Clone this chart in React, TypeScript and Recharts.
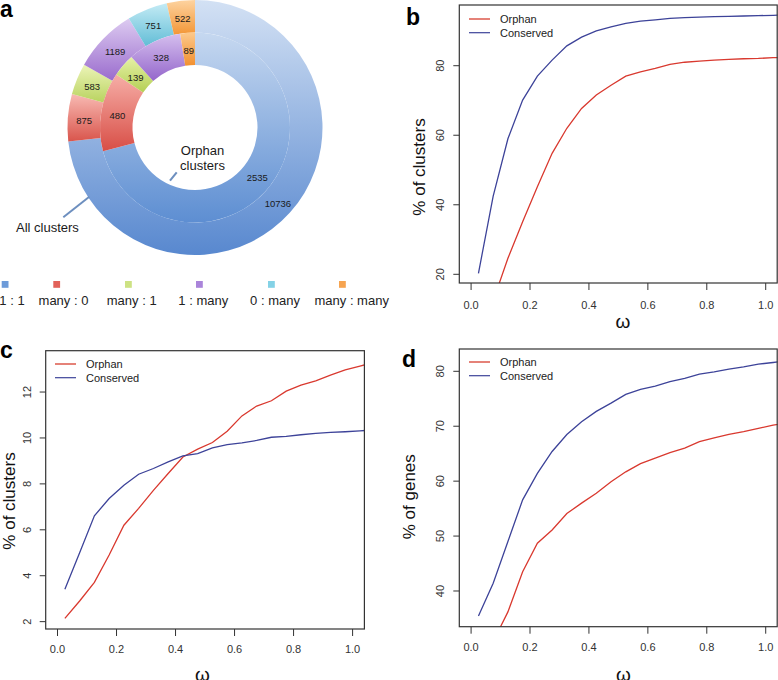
import React from 'react';
import { PieChart, Pie, Cell, LineChart, Line, XAxis, YAxis, Legend, Label } from 'recharts';

const FONT = '"Liberation Sans", Arial, Helvetica, sans-serif';

// ---------- panel a data ----------
const categories = ['1 : 1', 'many : 0', 'many : 1', '1 : many', '0 : many', 'many : many'];
const allClusters = [10736, 875, 583, 1189, 751, 522];
const orphanClusters = [2535, 480, 139, 328, 0, 89];

// ---------- panels b, c, d data ----------
const omega = [0.025, 0.075, 0.125, 0.175, 0.225, 0.275, 0.325, 0.375, 0.425, 0.475, 0.525,
  0.575, 0.625, 0.675, 0.725, 0.775, 0.825, 0.875, 0.925, 0.975, 1.025, 1.075];
const xTicks = [0, 0.2, 0.4, 0.6, 0.8, 1.0];
const seriesNames = ['Orphan', 'Conserved'];

const bOrphan = [4.5, 12.4, 24.6, 35.1, 45.2, 54.8, 62.0, 67.7, 71.6, 74.4, 77.0,
  78.2, 79.2, 80.4, 81.0, 81.3, 81.6, 81.8, 82.0, 82.1, 82.3, 82.4];
const bConserved = [20.3, 42.5, 59.0, 70.1, 77.0, 81.6, 85.7, 88.2, 90.0, 91.2, 92.2,
  92.8, 93.2, 93.6, 93.8, 94.0, 94.1, 94.2, 94.3, 94.4, 94.5, 94.6];
const bTicks = [20, 40, 60, 80];

const cOrphan = [2.14, 2.9, 3.71, 4.9, 6.2, 6.93, 7.72, 8.45, 9.17, 9.51, 9.8,
  10.29, 10.96, 11.39, 11.62, 12.04, 12.3, 12.49, 12.74, 12.96, 13.13, 13.3];
const cConserved = [3.41, 5.0, 6.61, 7.36, 7.94, 8.42, 8.67, 8.96, 9.22, 9.32, 9.57,
  9.71, 9.79, 9.89, 10.03, 10.07, 10.14, 10.2, 10.24, 10.27, 10.31, 10.35];
const cTicks = [2, 4, 6, 8, 10, 12];

const dOrphan = [26.0, 30.8, 36.2, 43.5, 48.7, 51.1, 54.1, 56.0, 57.8, 59.9, 61.7,
  63.2, 64.2, 65.2, 66.0, 67.2, 67.9, 68.5, 69.0, 69.6, 70.2, 70.6];
const dConserved = [35.45, 41.4, 49.0, 56.6, 61.4, 65.4, 68.5, 70.8, 72.7, 74.2, 75.8,
  76.7, 77.3, 78.1, 78.7, 79.5, 79.9, 80.4, 80.8, 81.3, 81.6, 81.9];
const dTicks = [40, 50, 60, 70, 80];

// ---------- styles ----------
const W = 778;
const H = 680;
const RED = '#d9392f';
const RED_LEGEND = '#e37469';
const BLUE = '#3d4399';

const outerGrad = [
  ['#d3e1f4', '#5888cf'],
  ['#f8bab3', '#d9554c'],
  ['#ecf4b8', '#b9d35f'],
  ['#ddcbf1', '#9a6ccd'],
  ['#c4ebf5', '#62bdd6'],
  ['#fdd3a0', '#f39636'],
];
const innerGrad = [
  ['#c6d8f0', '#5d8ed2'],
  ['#f6aea7', '#d84e46'],
  ['#e6f1a6', '#b4cf55'],
  ['#d5bfee', '#9466cb'],
  ['#bde6f3', '#5cb8d3'],
  ['#fcc98c', '#f29030'],
];
const swatch = ['#6d9bd9', '#e2625a', '#cde283', '#aa84da', '#84d2e6', '#f6a450'];

const RAD = Math.PI / 180;

const sliceLabel = (props: any) => {
  const { cx, cy, midAngle, innerRadius, outerRadius, value } = props;
  if (!value) return null;
  const r = (innerRadius + outerRadius) / 2;
  const x = cx + r * Math.cos(-midAngle * RAD);
  const y = cy + r * Math.sin(-midAngle * RAD);
  return (
    <text x={x} y={y + 5} textAnchor="middle" fontSize={9.5} fontFamily={FONT} fill="#1a1a1a">
      {value}
    </text>
  );
};

const DonutLegend = () => {
  const sq = [1.7, 53.3, 125, 196, 268, 339];
  const tx = [12, 63.5, 131.7, 203.3, 275, 351.7];
  return (
    <svg width={390} height={40} style={{ display: 'block', overflow: 'visible' }}>
      {categories.map((c, i) => (
        <g key={c}>
          <rect x={sq[i]} y={6} width={6.8} height={6.8} fill={swatch[i]} />
          <text x={tx[i]} y={30} textAnchor="middle" fontSize={13} fontFamily={FONT} fill="#222">{c}</text>
        </g>
      ))}
    </svg>
  );
};

const LineLegend = () => (
  <svg width={150} height={32} style={{ display: 'block', overflow: 'visible' }}>
    <line x1={4} x2={25} y1={9} y2={9} stroke={RED_LEGEND} strokeWidth={1.8} />
    <text x={35} y={13} fontSize={11} fontFamily={FONT} fill="#222">{seriesNames[0]}</text>
    <line x1={4} x2={25} y1={22.7} y2={22.7} stroke={BLUE} strokeWidth={1.2} />
    <text x={35} y={26.7} fontSize={11} fontFamily={FONT} fill="#222">{seriesNames[1]}</text>
  </svg>
);

function Donut() {
  const outer = categories.map((name, i) => ({ name, value: allClusters[i] }));
  const inner = categories.map((name, i) => ({ name, value: orphanClusters[i] }));
  return (
    <div style={{ position: 'absolute', left: 0, top: 0 }}>
      <PieChart width={390} height={330} margin={{ top: 0, right: 0, bottom: 0, left: 0 }}>
        <defs>
          {outerGrad.map((g, i) => (
            <linearGradient key={'o' + i} id={'gout' + i} x1="0" y1="0" x2="0" y2="1">
              <stop offset="0%" stopColor={g[0]} />
              <stop offset="100%" stopColor={g[1]} />
            </linearGradient>
          ))}
          {innerGrad.map((g, i) => (
            <linearGradient key={'i' + i} id={'gin' + i} x1="0" y1="0" x2="0" y2="1">
              <stop offset="0%" stopColor={g[0]} />
              <stop offset="100%" stopColor={g[1]} />
            </linearGradient>
          ))}
        </defs>
        <Pie data={outer} dataKey="value" nameKey="name" cx={195} cy={127.5} innerRadius={95} outerRadius={127.5}
          startAngle={90} endAngle={-270} stroke="none" isAnimationActive={false} label={sliceLabel} labelLine={false}>
          {outer.map((d, i) => <Cell key={d.name} fill={`url(#gout${i})`} />)}
        </Pie>
        <Pie data={inner} dataKey="value" nameKey="name" cx={195} cy={127.5} innerRadius={62.5} outerRadius={95}
          startAngle={90} endAngle={-270} stroke="none" isAnimationActive={false} label={sliceLabel} labelLine={false}>
          {inner.map((d, i) => <Cell key={d.name} fill={`url(#gin${i})`} />)}
        </Pie>
        <Legend layout="vertical" align="center" verticalAlign="middle"
          wrapperStyle={{ left: 0, top: 275, width: 390, height: 40 }} content={() => <DonutLegend />} />
      </PieChart>
    </div>
  );
}

type PanelCfg = {
  orphan: number[];
  conserved: number[];
  yDomain: [number, number];
  yTicks: number[];
  box: { l: number; r: number; t: number; b: number };
  yTitle: string;
  yTitleX: number;
  yTitleY: number;
  xTitleX: number;
  xTitleY: number;
  xLabelY: number;
  legend: { left: number; top: number };
};

function CurvePanel(p: PanelCfg) {
  const data = omega.map((x, i) => ({ x, orphan: p.orphan[i], conserved: p.conserved[i] }));
  const YW = 30;
  const XH = 30;
  const margin = { top: p.box.t, right: W - p.box.r, bottom: H - p.box.b - XH, left: p.box.l - YW };
  const xTick = (t: any) => (
    <text x={t.x} y={p.xLabelY} textAnchor="middle" fontSize={11} fontFamily={FONT} fill="#333">
      {Number(t.payload.value).toFixed(1)}
    </text>
  );
  const yTick = (t: any) => {
    const bx = p.box.l - 15;
    return (
      <text x={bx} y={t.y} transform={`rotate(-90, ${bx}, ${t.y})`} textAnchor="middle" fontSize={11}
        fontFamily={FONT} fill="#333">
        {t.payload.value}
      </text>
    );
  };
  return (
    <div style={{ position: 'absolute', left: 0, top: 0 }}>
      <LineChart width={W} height={H} data={data} margin={margin}>
        <XAxis dataKey="x" type="number" domain={[-0.04, 1.04]} ticks={xTicks} interval={0} allowDataOverflow
          height={XH} axisLine={false} tickSize={7} tickMargin={0} tickLine={{ stroke: '#333', strokeWidth: 1 }}
          tick={xTick}>
          <Label content={() => (
            <text x={p.xTitleX} y={p.xTitleY} textAnchor="middle" fontSize={19} fontFamily={FONT} fill="#111">ω</text>
          )} />
        </XAxis>
        <YAxis type="number" domain={p.yDomain} ticks={p.yTicks} interval={0} allowDataOverflow width={YW}
          axisLine={false} tickSize={6} tickMargin={0} tickLine={{ stroke: '#333', strokeWidth: 1 }} tick={yTick}>
          <Label content={() => (
            <text x={p.yTitleX} y={p.yTitleY} transform={`rotate(-90, ${p.yTitleX}, ${p.yTitleY})`}
              textAnchor="middle" fontSize={17} fontFamily={FONT} fill="#111">{p.yTitle}</text>
          )} />
        </YAxis>
        <Line dataKey="orphan" name={seriesNames[0]} type="linear" stroke={RED} strokeWidth={1.3} dot={false}
          activeDot={false} isAnimationActive={false} />
        <Line dataKey="conserved" name={seriesNames[1]} type="linear" stroke={BLUE} strokeWidth={1.3} dot={false}
          activeDot={false} isAnimationActive={false} />
        <Legend layout="vertical" align="center" verticalAlign="middle"
          wrapperStyle={{ left: p.legend.left, top: p.legend.top, width: 150, height: 32 }}
          content={() => <LineLegend />} />
      </LineChart>
    </div>
  );
}

const frames = [
  { l: 459.3, r: 777.2, t: 5, b: 283 },
  { l: 45.7, r: 364.4, t: 350.7, b: 629 },
  { l: 459.3, r: 777.2, t: 349, b: 626.7 },
];

export default function App() {
  return (
    <div style={{ position: 'absolute', left: 0, top: 0, width: W, height: H, background: '#fff', overflow: 'hidden' }}>
      <Donut />
      <CurvePanel orphan={bOrphan} conserved={bConserved} yDomain={[17.5, 97.46]} yTicks={bTicks}
        box={{ l: 459.3, r: 777.5, t: 5, b: 283 }} yTitle="% of clusters" yTitleX={424.5} yTitleY={167}
        xTitleX={623} xTitleY={328.3} xLabelY={309} legend={{ left: 465, top: 10 }} />
      <CurvePanel orphan={cOrphan} conserved={cConserved} yDomain={[1.68, 13.8]} yTicks={cTicks}
        box={{ l: 45.7, r: 364.4, t: 350.7, b: 629 }} yTitle="% of clusters" yTitleX={15} yTitleY={501}
        xTitleX={202.3} xTitleY={681} xLabelY={653.3} legend={{ left: 51, top: 355 }} />
      <CurvePanel orphan={dOrphan} conserved={dConserved} yDomain={[33.5, 84.06]} yTicks={dTicks}
        box={{ l: 459.3, r: 777.5, t: 349, b: 626.7 }} yTitle="% of genes" yTitleX={415.5} yTitleY={496.7}
        xTitleX={623.3} xTitleY={681} xLabelY={650.7} legend={{ left: 465, top: 353 }} />
      <svg width={W} height={H} style={{ position: 'absolute', left: 0, top: 0, pointerEvents: 'none' }}>
        {frames.map((f, i) => (
          <rect key={i} x={f.l} y={f.t} width={f.r - f.l} height={f.b - f.t} fill="none" stroke="#333" strokeWidth={1.2} />
        ))}
        <g fontFamily={FONT} fontWeight="bold" fontSize={23} fill="#000">
          <text x={0} y={17}>a</text>
          <text x={406} y={25}>b</text>
          <text x={0} y={358}>c</text>
          <text x={402} y={367}>d</text>
        </g>
        <line x1={63.3} y1={217.3} x2={89.3} y2={196.7} stroke="#6d8fbf" strokeWidth={2} />
        <line x1={170} y1={180.7} x2={176.7} y2={172.3} stroke="#6d8fbf" strokeWidth={2} />
        <g fontFamily={FONT} fontSize={13} fill="#1a1a1a">
          <text x={202.5} y={155} textAnchor="middle">Orphan</text>
          <text x={202.5} y={170} textAnchor="middle">clusters</text>
          <text x={16} y={231.7}>All clusters</text>
        </g>
      </svg>
    </div>
  );
}
